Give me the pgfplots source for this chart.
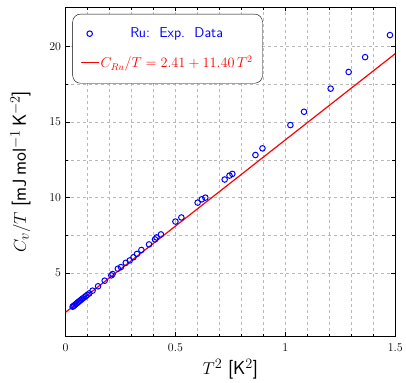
\documentclass[border=0pt]{standalone}
\usepackage{pgfplots}
\pgfplotsset{compat=1.18}
\begin{document}
\begin{tikzpicture}
\begin{axis}[
  scale only axis,
  width=332pt, height=332pt,
  xmin=0, xmax=1.5, ymin=0.8, ymax=22.6,
  xtick={0,0.5,1,1.5},
  xticklabels={0,0.5,1,1.5},
  ytick={5,10,15,20},
  minor x tick num=4,
  minor y tick num=1,
  grid=both,
  major grid style={dashed, gray!55},
  minor grid style={dashed, gray!55},
  tick style={black},
  tick label style={font=\large},
  xticklabel style={yshift=-3pt},
  yticklabel style={xshift=-1pt},
  xlabel={\fontsize{19}{23}\selectfont $T^2$ \textsf{[K$^2$]}},
  ylabel={\fontsize{19}{23}\selectfont $C_v/T$ \textsf{[mJ\,mol$^{-1}$\,K$^{-2}$]}},
  ylabel style={yshift=12pt},
  xlabel style={yshift=-1pt},
  legend style={at={(0.021,0.979)}, anchor=north west, draw=black, rounded corners=8pt, fill=white, font=\Large, row sep=13pt, inner xsep=8pt, inner ysep=12pt},
  legend cell align=center,
]
\addplot[only marks, mark=o, mark size=2.8pt, blue, line width=1pt] coordinates {
(0.032,2.78) (0.036,2.82) (0.040,2.87) (0.045,2.93) (0.050,2.99) (0.055,3.05)
(0.060,3.11) (0.066,3.18) (0.072,3.25) (0.078,3.32) (0.085,3.40) (0.092,3.48)
(0.100,3.57) (0.108,3.66)
(0.123,3.84) (0.148,4.13) (0.178,4.50) (0.208,4.85) (0.214,4.94) (0.238,5.29)
(0.252,5.40) (0.274,5.68) (0.292,5.84) (0.309,6.05) (0.325,6.27) (0.345,6.53)
(0.380,6.90) (0.407,7.23) (0.414,7.36) (0.434,7.56) (0.500,8.41) (0.527,8.68)
(0.601,9.66) (0.620,9.88) (0.636,9.99) (0.724,11.19) (0.746,11.45) (0.759,11.56)
(0.864,12.81) (0.896,13.25) (1.023,14.79) (1.085,15.67) (1.206,17.20) (1.288,18.30)
(1.363,19.28) (1.476,20.74)
};
\addlegendentry{\textcolor{blue}{\textsf{Ru:\ \ Exp.\ \ Data}}}
\addplot[red, line width=1.2pt] coordinates {(0,2.41) (1.5,19.51)};
\addlegendentry{\textcolor{red}{$C_{Ru}/T = 2.41 + 11.40\,T^2$}}
\end{axis}
\path (-66pt,339pt) (340pt,-45pt);
\end{tikzpicture}
\end{document}
